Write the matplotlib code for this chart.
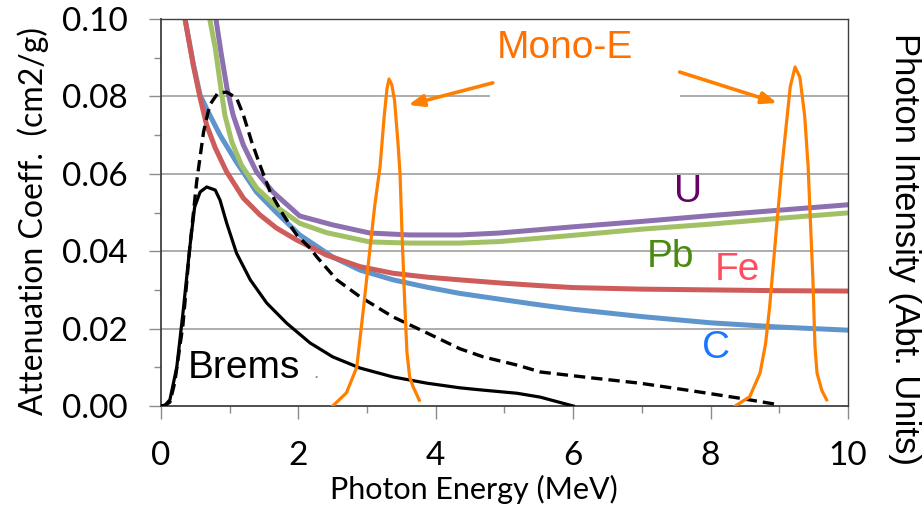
import matplotlib
matplotlib.use("Agg")
import matplotlib.pyplot as plt
from matplotlib.patches import Rectangle

# ---------------- data ----------------
fe_x = [0.35, 0.47, 0.57, 0.665, 0.79, 0.956, 1.20, 1.44, 1.68, 1.975, 2.41, 2.90, 3.38, 3.87, 4.35, 4.93, 5.52, 6.0, 7.0, 8.0, 9.0, 10.0]
fe_y = [0.100, 0.0881, 0.0796, 0.0726, 0.0667, 0.0605, 0.0537, 0.0494, 0.046, 0.0429, 0.039, 0.036, 0.0343, 0.0333, 0.0326, 0.0318, 0.0311, 0.0306, 0.0302, 0.030, 0.0298, 0.0297]

c_x = [0.35, 0.47, 0.57, 0.71, 0.86, 1.10, 1.39, 1.68, 2.02, 2.50, 2.90, 3.38, 3.87, 4.35, 4.93, 5.52, 6.0, 7.0, 8.0, 9.0, 10.0]
c_y = [0.100, 0.0885, 0.0803, 0.0752, 0.070, 0.063, 0.0553, 0.050, 0.0442, 0.0385, 0.0351, 0.0326, 0.0307, 0.0291, 0.0276, 0.0261, 0.0250, 0.0231, 0.0215, 0.0204, 0.0196]

pb_x = [0.71, 0.79, 0.86, 0.93, 1.03, 1.17, 1.39, 1.68, 2.02, 2.41, 3.04, 3.62, 4.35, 4.93, 6.0, 7.0, 8.0, 9.0, 10.0]
pb_y = [0.100, 0.0925, 0.0837, 0.0752, 0.0683, 0.0623, 0.0564, 0.0515, 0.0472, 0.0448, 0.0424, 0.0421, 0.0421, 0.0425, 0.0441, 0.0457, 0.047, 0.0485, 0.0499]

u_x = [0.80, 0.88, 0.96, 1.05, 1.20, 1.39, 1.63, 2.02, 2.50, 3.04, 3.62, 4.35, 4.93, 6.0, 7.0, 8.0, 9.0, 10.0]
u_y = [0.100, 0.0907, 0.0822, 0.0752, 0.0674, 0.0605, 0.0553, 0.0491, 0.0468, 0.0447, 0.0442, 0.0442, 0.0447, 0.0463, 0.0477, 0.0492, 0.0506, 0.052]

brems_x = [0.0, 0.06, 0.13, 0.23, 0.32, 0.42, 0.49, 0.57, 0.665, 0.79, 0.86, 0.956, 1.10, 1.30, 1.54, 1.83, 2.17, 2.50, 2.90, 3.38, 3.87, 4.35, 4.69, 5.18, 5.52, 6.0]
brems_y = [0.0, 0.0002, 0.0016, 0.010, 0.024, 0.041, 0.0514, 0.0553, 0.0566, 0.0558, 0.0532, 0.0473, 0.0395, 0.0326, 0.0266, 0.0214, 0.0163, 0.0127, 0.0098, 0.0075, 0.0059, 0.0047, 0.0041, 0.0033, 0.0023, 0.0]

brems2_x = [0.0, 0.06, 0.13, 0.20, 0.32, 0.42, 0.52, 0.62, 0.71, 0.83, 0.956, 1.10, 1.20, 1.32, 1.44, 1.59, 1.78, 1.975, 2.17, 2.27, 2.56, 2.90, 3.38, 3.87, 4.35, 4.69, 5.20, 5.52, 6.30, 6.97, 7.70, 8.43, 9.0]
brems2_y = [0.0, 0.0002, 0.001, 0.006, 0.021, 0.041, 0.058, 0.0708, 0.0778, 0.0809, 0.0811, 0.0796, 0.0752, 0.0683, 0.0623, 0.0553, 0.0494, 0.0442, 0.0408, 0.0385, 0.0326, 0.0282, 0.023, 0.0189, 0.0148, 0.0127, 0.0105, 0.0088, 0.0072, 0.0059, 0.004, 0.002, 0.0003]

mono1_x = [2.50, 2.70, 2.85, 2.94, 3.02, 3.11, 3.19, 3.25, 3.29, 3.32, 3.36, 3.40, 3.45, 3.48, 3.51, 3.55, 3.58, 3.62, 3.67, 3.76]
mono1_y = [0.0, 0.0034, 0.010, 0.024, 0.037, 0.0515, 0.062, 0.075, 0.082, 0.0845, 0.083, 0.079, 0.068, 0.060, 0.044, 0.026, 0.014, 0.0075, 0.005, 0.0015]

mono2_x = [8.36, 8.57, 8.72, 8.80, 8.86, 8.95, 9.04, 9.16, 9.23, 9.30, 9.37, 9.42, 9.46, 9.49, 9.52, 9.55, 9.62, 9.69]
mono2_y = [0.0, 0.0024, 0.0085, 0.016, 0.0256, 0.044, 0.062, 0.0825, 0.0876, 0.085, 0.075, 0.062, 0.045, 0.0326, 0.0153, 0.0085, 0.004, 0.0016]

x_ticks = [0, 2, 4, 6, 8, 10]
y_ticks = [0.00, 0.02, 0.04, 0.06, 0.08, 0.10]

# ---------------- figure ----------------
fig = plt.figure(figsize=(9.24, 5.07), dpi=100)
ax = fig.add_axes([0.1742, 0.1992, 0.7435, 0.7633])

tick_font = ["Lato", "DejaVu Sans"]
ann_font = ["Liberation Sans", "DejaVu Sans"]

ax.set_xlim(0, 10)
ax.set_ylim(0, 0.10)
ax.set_xticks(x_ticks)
ax.set_yticks(y_ticks)
ax.set_xticks([1, 3, 5, 7, 9], minor=True)
ax.set_yticks([0.01, 0.03, 0.05, 0.07, 0.09], minor=True)
ax.set_yticklabels([f"{v:.2f}" for v in y_ticks], fontfamily=tick_font, fontsize=24)
ax.set_xticklabels([str(v) for v in x_ticks], fontfamily=tick_font, fontsize=24)
ax.tick_params(axis="both", which="major", length=9, width=1.0, color="#8c8c8c", direction="out")
ax.tick_params(axis="both", which="minor", length=5, width=1.0, color="#8c8c8c", direction="out")
ax.tick_params(axis="y", which="major", pad=15)
ax.tick_params(axis="x", which="major", pad=16)

for y in [0.02, 0.04, 0.06, 0.08]:
    ax.axhline(y, color="#a6a6a6", lw=1.3, zorder=0.5)

for s in ["left", "bottom"]:
    ax.spines[s].set_color("#404040")
    ax.spines[s].set_linewidth(1.3)
for s in ["top", "right"]:
    ax.spines[s].set_color("#404040")
    ax.spines[s].set_linewidth(1.0)

# white box behind "Mono-E" (hides grid line)
ax.add_patch(Rectangle((4.79, 0.0765), 2.76, 0.022, facecolor="white", edgecolor="none", zorder=0.8))

ax.plot(c_x, c_y, color="#5F95CD", lw=3.6, zorder=2.0, solid_joinstyle="round")
ax.plot(fe_x, fe_y, color="#CD5C5A", lw=3.6, zorder=2.1, solid_joinstyle="round")
ax.plot(pb_x, pb_y, color="#A2C166", lw=3.6, zorder=2.2, solid_joinstyle="round")
ax.plot(u_x, u_y, color="#8C70B0", lw=3.6, zorder=2.3, solid_joinstyle="round")

ax.plot(brems_x, brems_y, color="black", lw=2.3, zorder=3, solid_joinstyle="round")
ax.plot(brems2_x, brems2_y, color="black", lw=2.4, ls=(0, (3.4, 1.8)), zorder=3)

ax.plot(mono1_x, mono1_y, color="#FF8000", lw=2.3, zorder=3, solid_joinstyle="round")
ax.plot(mono2_x, mono2_y, color="#FF8000", lw=2.3, zorder=3, solid_joinstyle="round")

# annotations
ax.text(5.88, 0.0925, "Mono-E", color="#FF7000", fontsize=28, fontfamily=ann_font,
        ha="center", va="center", zorder=4)
arrow_kw = dict(arrowstyle="-|>,head_length=0.9,head_width=0.35", color="#FF8000", lw=2.6,
                shrinkA=0, shrinkB=0)
ax.annotate("", xy=(3.60, 0.0778), xytext=(4.83, 0.0835), arrowprops=arrow_kw, zorder=4)
ax.annotate("", xy=(8.97, 0.0783), xytext=(7.55, 0.0863), arrowprops=arrow_kw, zorder=4)

ax.text(7.67, 0.0527, "U", color="#660066", fontsize=28, fontfamily=ann_font, ha="center", va="baseline")
ax.text(7.07, 0.0359, "Pb", color="#4A8A10", fontsize=28, fontfamily=ann_font, ha="left", va="baseline")
ax.text(8.06, 0.0326, "Fe", color="#FF4D5E", fontsize=28, fontfamily=ann_font, ha="left", va="baseline")
ax.text(7.87, 0.0124, "C", color="#1A75FF", fontsize=28, fontfamily=ann_font, ha="left", va="baseline")
ax.text(0.39, 0.0072, "Brems", color="black", fontsize=28, fontfamily=ann_font, ha="left", va="baseline")
ax.text(2.21, 0.0072, ".", color="#8c8c8c", fontsize=14, fontfamily=ann_font, ha="left", va="baseline")

# axis labels
fig.text(0.036, 0.565, "Attenuation Coeff.  (cm2/g)", rotation=90, fontsize=23,
         fontfamily=tick_font, ha="center", va="center")
fig.text(474 / 924, 1 - 489 / 507, "Photon Energy (MeV)", fontsize=22,
         fontfamily=tick_font, ha="center", va="center")
fig.text(905 / 924, 1 - 249 / 507, "Photon Intensity (Abt. Units)", rotation=270, fontsize=25,
         fontfamily=ann_font, ha="center", va="center")

fig.savefig("out.png", dpi=100)
